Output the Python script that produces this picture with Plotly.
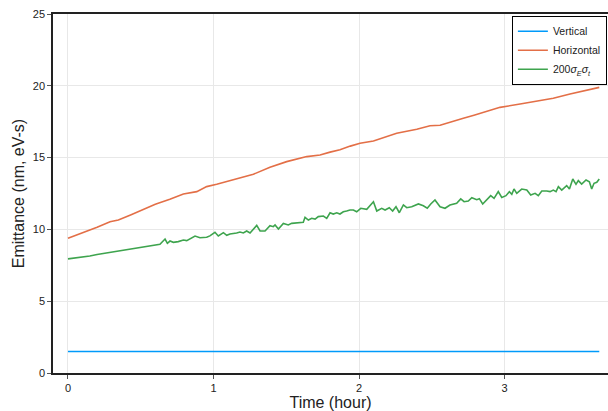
import plotly.graph_objects as go

# Vertical emittance (constant)
t_vert = [0.0, 3.651]
vert = [1.5, 1.5]

# Horizontal emittance
t_horiz = [0, 0.1, 0.2, 0.289, 0.346, 0.43, 0.518, 0.6, 0.7, 0.793, 0.885, 0.953,
           1.022, 1.1, 1.19, 1.274, 1.388, 1.503, 1.641, 1.732, 1.801, 1.869, 1.94,
           2.007, 2.099, 2.18, 2.259, 2.397, 2.488, 2.557, 2.648, 2.717, 2.79, 2.854,
           2.969, 3.107, 3.244, 3.335, 3.450, 3.542, 3.651]
horiz = [9.38, 9.75, 10.15, 10.54, 10.65, 11.0, 11.40, 11.75, 12.1, 12.47, 12.63, 12.98,
         13.14, 13.35, 13.6, 13.84, 14.32, 14.72, 15.07, 15.18, 15.38, 15.55, 15.8,
         16.0, 16.16, 16.42, 16.69, 16.97, 17.22, 17.25, 17.50, 17.74, 17.95, 18.15,
         18.50, 18.73, 18.96, 19.13, 19.43, 19.66, 19.89]

# 200 sigma_E sigma_t
t_long = [0, 0.05, 0.1, 0.15, 0.2, 0.25, 0.3, 0.35, 0.4, 0.45, 0.5, 0.54, 0.58, 0.632,
          0.667, 0.683, 0.701, 0.724, 0.758, 0.793, 0.816, 0.85, 0.873, 0.907, 0.953, 0.975,
          1.010, 1.033, 1.068, 1.091, 1.113, 1.159, 1.182, 1.205, 1.228, 1.251, 1.297,
          1.320, 1.354, 1.388, 1.411, 1.423, 1.446, 1.480, 1.514, 1.537, 1.595, 1.617,
          1.629, 1.652, 1.675, 1.698, 1.720, 1.755, 1.778, 1.801, 1.823, 1.847, 1.869,
          1.892, 1.915, 1.938, 1.961, 1.984, 2.012, 2.053, 2.099, 2.122, 2.156, 2.179,
          2.208, 2.231, 2.254, 2.277, 2.305, 2.328, 2.362, 2.408, 2.442, 2.469, 2.493,
          2.522, 2.557, 2.591, 2.625, 2.671, 2.699, 2.722, 2.751, 2.775, 2.809, 2.827,
          2.850, 2.878, 2.905, 2.928, 2.957, 2.981, 3.010, 3.033, 3.050, 3.065, 3.084,
          3.118, 3.153, 3.180, 3.210, 3.232, 3.256, 3.290, 3.313, 3.335, 3.354, 3.370,
          3.393, 3.427, 3.446, 3.469, 3.491, 3.507, 3.530, 3.560, 3.583, 3.599, 3.615,
          3.634, 3.651]
long_ = [7.95, 8.0, 8.08, 8.15, 8.25, 8.33, 8.42, 8.5, 8.57, 8.65, 8.74, 8.8, 8.86, 8.96,
         9.33, 9.03, 9.19, 9.10, 9.15, 9.26, 9.22, 9.42, 9.54, 9.42, 9.45, 9.55,
         9.80, 9.54, 9.77, 9.59, 9.68, 9.75, 9.82, 9.75, 9.89, 9.75, 10.28,
         9.89, 9.89, 10.26, 10.19, 10.31, 10.03, 10.42, 10.31, 10.42, 10.47, 10.49,
         10.84, 10.65, 10.77, 10.72, 10.89, 10.93, 10.77, 11.16, 11.07, 11.16, 11.07,
         11.23, 11.28, 11.35, 11.35, 11.23, 11.47, 11.40, 11.93, 11.28, 11.47, 11.35,
         11.51, 11.28, 11.58, 11.16, 11.70, 11.51, 11.58, 11.77, 11.65, 11.47, 11.77,
         12.05, 11.58, 11.47, 11.70, 11.82, 12.12, 11.93, 11.98, 12.21, 12.07, 12.14,
         11.77, 12.05, 12.35, 12.16, 12.63, 12.23, 12.35, 12.63, 12.44, 12.81, 12.51,
         12.81, 12.74, 12.40, 12.51, 12.35, 12.67, 12.67, 12.63, 12.74, 12.63, 12.98,
         12.74, 13.05, 12.81, 13.51, 13.14, 13.40, 13.16, 13.44, 13.32, 12.81, 13.21,
         13.28, 13.51]

x_ticks = [0, 1, 2, 3]
y_ticks = [0, 5, 10, 15, 20, 25]

font_family = "Liberation Sans"

fig = go.Figure()
fig.add_trace(go.Scatter(x=t_vert, y=vert, mode="lines", name="Vertical",
                         line=dict(color="#009AFA", width=1.6)))
fig.add_trace(go.Scatter(x=t_horiz, y=horiz, mode="lines", name="Horizontal",
                         line=dict(color="#E36F47", width=1.6)))
fig.add_trace(go.Scatter(x=t_long, y=long_, mode="lines",
                         name="200<i>σ</i><sub><i>E</i></sub><i>σ</i><sub><i>t</i></sub>",
                         line=dict(color="#3EA44E", width=1.6)))

fig.update_layout(
    width=608, height=411,
    margin=dict(l=53, r=0, t=14, b=38),
    paper_bgcolor="white", plot_bgcolor="white",
    font=dict(family=font_family, size=11, color="#222222"),
    showlegend=True,
    legend=dict(x=0.998, xanchor="right", y=0.995, yanchor="top",
                bgcolor="white", bordercolor="black", borderwidth=1,
                font=dict(family=font_family, size=10.5, color="#222222"),
                tracegroupgap=0, itemwidth=30),
    xaxis=dict(
        range=[-0.103, 3.711], tickvals=x_ticks, ticktext=[str(v) for v in x_ticks],
        showgrid=True, gridcolor="#e8e8e8", gridwidth=1, zeroline=False,
        showline=True, linecolor="#222222", linewidth=1.5, mirror=True,
        ticks="outside", ticklen=4, tickcolor="#555555",
        tickfont=dict(size=11),
        title=dict(text="Time (hour)", font=dict(size=16), standoff=3),
    ),
    yaxis=dict(
        range=[0, 25], tickvals=y_ticks, ticktext=[str(v) for v in y_ticks],
        showgrid=True, gridcolor="#e8e8e8", gridwidth=1, zeroline=False,
        showline=True, linecolor="#222222", linewidth=1.5, mirror=False,
        ticks="outside", ticklen=4, tickcolor="#555555",
        tickfont=dict(size=11),
        title=dict(text="Emittance (nm, eV-s)", font=dict(size=16), standoff=4),
    ),
)

fig.write_html("out.html", config={"displayModeBar": False},
               post_script="document.body.style.margin='0';document.body.style.padding='0';")
